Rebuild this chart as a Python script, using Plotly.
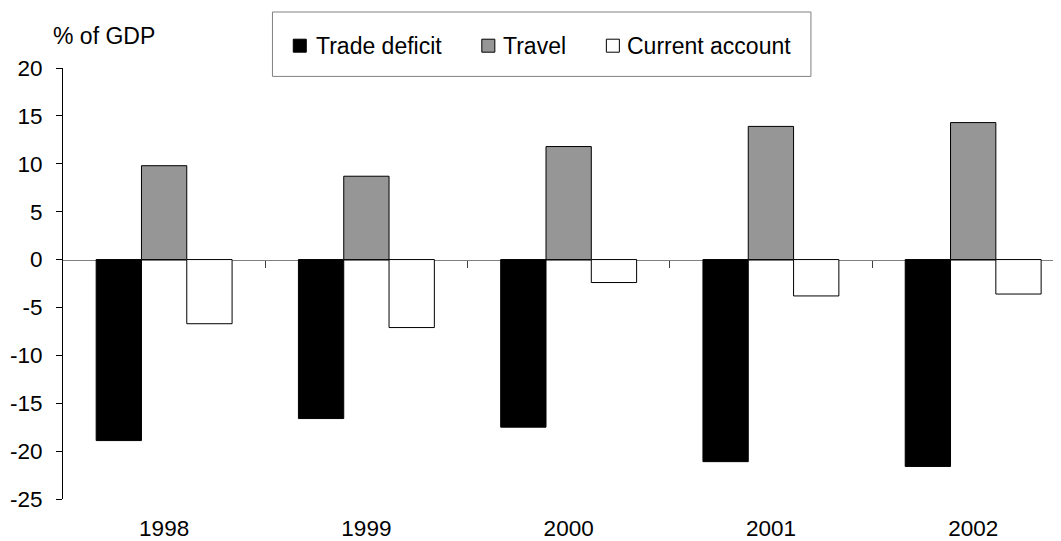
import plotly.graph_objects as go

years = ["1998", "1999", "2000", "2001", "2002"]
trade_deficit = [-18.9, -16.6, -17.5, -21.1, -21.6]
travel = [9.8, 8.7, 11.8, 13.9, 14.3]
current_account = [-6.7, -7.1, -2.4, -3.8, -3.6]
series_names = ["Trade deficit", "Travel", "Current account"]
series_colors = ["#000000", "#969696", "#ffffff"]

y_ticks = [-25, -20, -15, -10, -5, 0, 5, 10, 15, 20]
y_ticktext = [str(v) for v in y_ticks]

FONT = "Liberation Sans, Arial, sans-serif"
FS = 23
TFS = 22.5

# the page body has an 8px margin; figure is sized to fill the window
OFF = 8
W, H = 1061 - OFF, 541 - OFF
# plot-area edges in page pixels
PL, PR, PT, PB = 63.3, 1061.0, 68.3, 499.3
ML, MR, MT, MB = PL - OFF, 0, PT - OFF, H - (PB - OFF)
PW, PH = PR - PL, PB - PT
CAT_PX = 202.2
xr = [-0.5, -0.5 + PW / CAT_PX]
yr = [-25, 20]


def px(xp):
    return (xp - PL) / PW


def py(yp):
    return (PB - yp) / PH


fig = go.Figure()
xs = list(range(len(years)))
for name, vals, col in zip(series_names, [trade_deficit, travel, current_account], series_colors):
    fig.add_trace(go.Bar(name=name, x=xs, y=vals, showlegend=False,
                         marker=dict(color=col, line=dict(color="#000000", width=1))))

zero_pos = (0 - yr[0]) / (yr[1] - yr[0])

# manual legend (layout decoration)
legend_swatch_x = [293.5, 482.0, 606.5]
legend_text_x = [314.0, 501.0, 625.5]
SW = 13
LEG_CY = 46
shapes = [dict(type="rect", xref="paper", yref="paper",
               x0=px(272.7), x1=px(811), y0=py(76.7), y1=py(12.3),
               line=dict(color="#808080", width=1), fillcolor="rgba(0,0,0,0)", layer="above")]
annotations = []
for name, col, sx, tx in zip(series_names, series_colors, legend_swatch_x, legend_text_x):
    shapes.append(dict(type="rect", xref="paper", yref="paper",
                       x0=px(sx), x1=px(sx + SW), y0=py(LEG_CY + SW / 2), y1=py(LEG_CY - SW / 2),
                       line=dict(color="#000000", width=1), fillcolor=col, layer="above"))
    annotations.append(dict(text=name, xref="paper", yref="paper", x=px(tx), y=py(LEG_CY),
                            xanchor="left", yanchor="middle", showarrow=False,
                            font=dict(family=FONT, size=FS, color="black")))

annotations.append(dict(text="% of GDP", xref="paper", yref="paper",
                        x=px(51.5), y=py(36.5), xanchor="left", yanchor="middle",
                        showarrow=False, font=dict(family=FONT, size=FS, color="black")))

fig.update_layout(
    width=W, height=H,
    margin=dict(l=ML, r=MR, t=MT, b=MB, pad=0, autoexpand=False),
    paper_bgcolor="white", plot_bgcolor="white",
    font=dict(family=FONT, size=TFS, color="black"),
    barmode="group", bargap=0.328, bargroupgap=0,
    showlegend=False,
    xaxis=dict(type="linear", range=xr, tickmode="array",
               tickvals=xs, ticktext=years,
               showline=False, ticks="", showgrid=False, zeroline=False,
               ticklabelstandoff=13, tickfont=dict(size=TFS)),
    xaxis2=dict(type="linear", range=xr, overlaying="x", anchor="free", position=zero_pos,
                side="bottom", tickmode="array",
                tickvals=[i + 0.5 for i in xs],
                showticklabels=False, showline=True, linecolor="#808080", linewidth=1,
                ticks="outside", ticklen=7, tickcolor="#404040", tickwidth=1,
                showgrid=False, zeroline=False, layer="below traces"),
    yaxis=dict(range=yr, tickmode="array", tickvals=y_ticks, ticktext=y_ticktext,
               showline=True, linecolor="#000000", linewidth=1,
               ticks="outside", ticklen=6, tickcolor="#000000",
               ticklabelstandoff=9,
               showgrid=False, zeroline=False, tickfont=dict(size=TFS)),
    shapes=shapes,
    annotations=annotations,
)
# invisible trace so the zero-line axis is drawn
fig.add_trace(go.Scatter(x=[0], y=[0], xaxis="x2", mode="markers",
                         marker=dict(opacity=0), showlegend=False, hoverinfo="skip"))

fig.write_html("out.html")
